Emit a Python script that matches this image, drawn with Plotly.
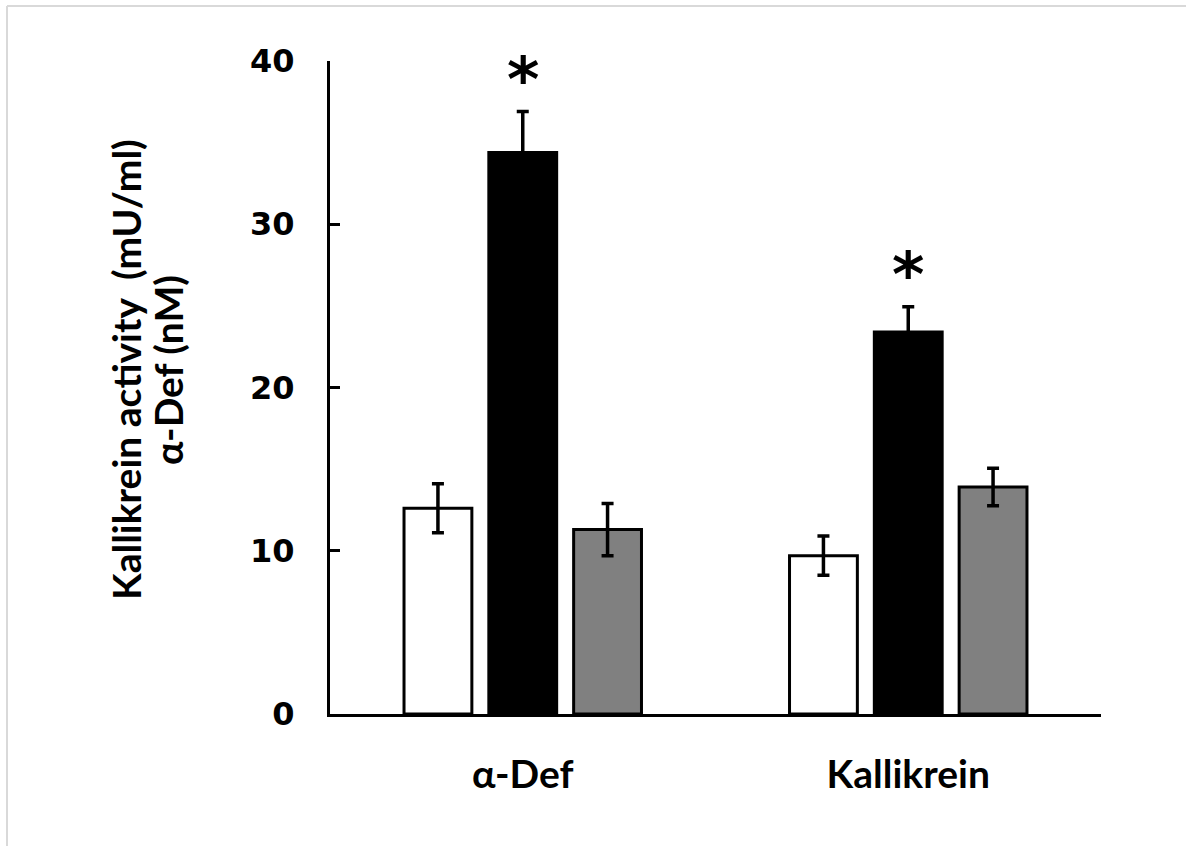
import plotly.graph_objects as go

categories = ["α-Def", "Kallikrein"]
series_names = ["Control", "Treated", "Treated + inhibitor"]
white_vals = [12.6, 9.7]
white_err = [1.5, 1.2]
black_vals = [34.4, 23.4]
black_err = [2.5, 1.55]
gray_vals = [11.3, 13.9]
gray_err = [1.6, 1.15]
colors = ["#ffffff", "#000000", "#808080"]
star_labels = ["*", "*"]
title_lines = ["Kallikrein activity\u00a0 (mU/ml)", "α-Def (nM)"]

fig = go.Figure()
for name, vals, errs, col in zip(series_names,
                                 [white_vals, black_vals, gray_vals],
                                 [white_err, black_err, gray_err],
                                 colors):
    fig.add_trace(go.Bar(
        x=categories, y=vals, name=name,
        marker=dict(color=col, line=dict(color="black", width=3)),
        error_y=dict(type="data", array=errs, color="black", thickness=3.5, width=6),
    ))

for cat, v, e, s in zip(categories, black_vals, black_err, star_labels):
    fig.add_annotation(x=cat, y=v + e, text=s, showarrow=False,
                       xanchor="center", yanchor="middle", yshift=32,
                       font=dict(family="DejaVu Sans", size=62, color="black",
                                 weight="bold"))

L, R, T, B = 330, 85, 61, 132
W, H = 1186, 846
pw, ph = W - L - R, H - T - B

def px(x):
    return (x - L) / pw

def py(y):
    return (H - B - y) / ph

for line, xc in zip(title_lines, [126, 168]):
    fig.add_annotation(x=px(xc), y=py(370), xref="paper", yref="paper",
                       text=line, textangle=-90, showarrow=False,
                       font=dict(family="Lato", size=39, color="black", weight="bold"),
                       xanchor="center", yanchor="middle")

# light frame
fig.add_shape(type="line", xref="paper", yref="paper",
              x0=px(7), x1=px(1190), y0=py(6), y1=py(6),
              line=dict(color="#d9d9d9", width=2))
fig.add_shape(type="line", xref="paper", yref="paper",
              x0=px(7), x1=px(7), y0=py(6), y1=py(850),
              line=dict(color="#d9d9d9", width=2))

fig.update_layout(
    width=W, height=H,
    margin=dict(l=L, r=R, t=T, b=B),
    paper_bgcolor="white", plot_bgcolor="white",
    barmode="group", bargap=0.34, bargroupgap=0.2,
    showlegend=False,
    xaxis=dict(showline=True, linecolor="black", linewidth=3, ticks="",
               showgrid=False, zeroline=False,
               tickfont=dict(family="Lato", size=39, color="black", weight="bold"),
               ticklabelstandoff=24),
    yaxis=dict(range=[0, 40], tickvals=[0, 10, 20, 30, 40],
               showline=True, linecolor="black", linewidth=3,
               ticks="inside", ticklen=10, tickwidth=3, tickcolor="black",
               showgrid=False, zeroline=False,
               tickfont=dict(family="DejaVu Sans", size=32, color="black", weight="bold"),
               ticklabelstandoff=26),
)

fig.write_html("out.html", config={"displayModeBar": False},
               post_script="document.body.style.margin='0px';")
